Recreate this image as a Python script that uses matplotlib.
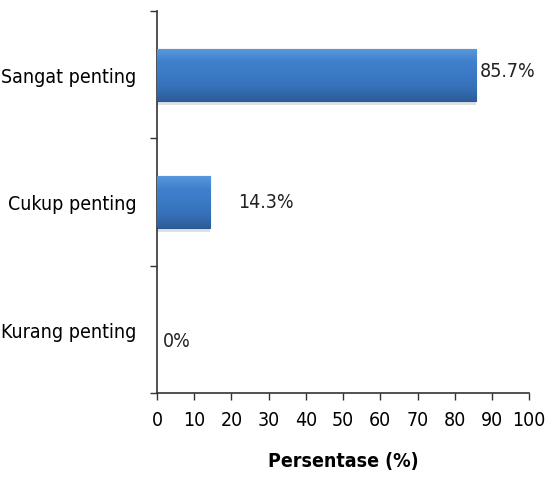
import numpy as np
import matplotlib
matplotlib.use('Agg')
import matplotlib.pyplot as plt
from matplotlib.colors import LinearSegmentedColormap

#Fuente estrecha (la más parecida a Arial Narrow disponible)
plt.rcParams['font.family'] = ['DejaVu Sans']
plt.rcParams['font.stretch'] = 'condensed'

#Datos ---------------------------------
kategori = ['Kurang penting', 'Cukup penting', 'Sangat penting']
persen = [0, 14.3, 85.7]
label = ['0%', '14.3%', '85.7%']
xticks = list(range(0, 101, 10))

fig = plt.figure(figsize=(5.45, 4.81), dpi=100)
ax = fig.add_axes([0.288, 0.181, 0.683, 0.794])

y = np.arange(len(kategori))

#sombra suave bajo las barras
ax.barh(y - 0.03, persen, height=0.41, color='#c8ccd2', alpha=0.6, linewidth=0, zorder=1)
bars = ax.barh(y, persen, height=0.41, color='#3b78c4', edgecolor='#2a5790', linewidth=0.8, zorder=2)

#degradado vertical dentro de cada barra
cmap = LinearSegmentedColormap.from_list('azul', ['#2d5d9a', '#3670b8', '#3b7ac6', '#3f80cc', '#5a9ae0'])
grad = np.linspace(0, 1, 64).reshape(-1, 1)
for b in bars:
    if b.get_width() <= 0:
        b.set_linewidth(0)
        continue
    x0, y0 = b.get_x(), b.get_y()
    im = ax.imshow(grad, cmap=cmap, aspect='auto', origin='lower',
                   extent=[x0, x0 + b.get_width(), y0, y0 + b.get_height()], zorder=3)
    im.set_clip_path(b)

ax.set_xlim(0, 100)
ax.set_ylim(-0.5, 2.5)
ax.set_xticks(xticks)
ax.set_yticks(y)
ax.set_yticklabels(kategori)
ax.set_yticks([-0.5, 0.5, 1.5, 2.5], minor=True)
ax.tick_params(axis='y', which='major', length=0, pad=15, labelsize=14)
ax.tick_params(axis='y', which='minor', length=5, width=1, color='#333333')
ax.tick_params(axis='x', length=5, width=1, color='#333333', labelsize=14, pad=7)

for s in ['top', 'right']:
    ax.spines[s].set_visible(False)
for s in ['left', 'bottom']:
    ax.spines[s].set_color('#333333')
    ax.spines[s].set_linewidth(1.2)

offs = [(4, -8), (20, 0), (3, 3)]
for yi, v, t, o in zip(y, persen, label, offs):
    ax.annotate(t, (v, yi), xytext=o, textcoords='offset points',
                va='center', ha='left', fontsize=14, color='#222222', zorder=5)

ax.set_xlabel('Persentase (%)', fontsize=14, fontweight='bold', labelpad=16)

fig.savefig('out.png', dpi=100)
